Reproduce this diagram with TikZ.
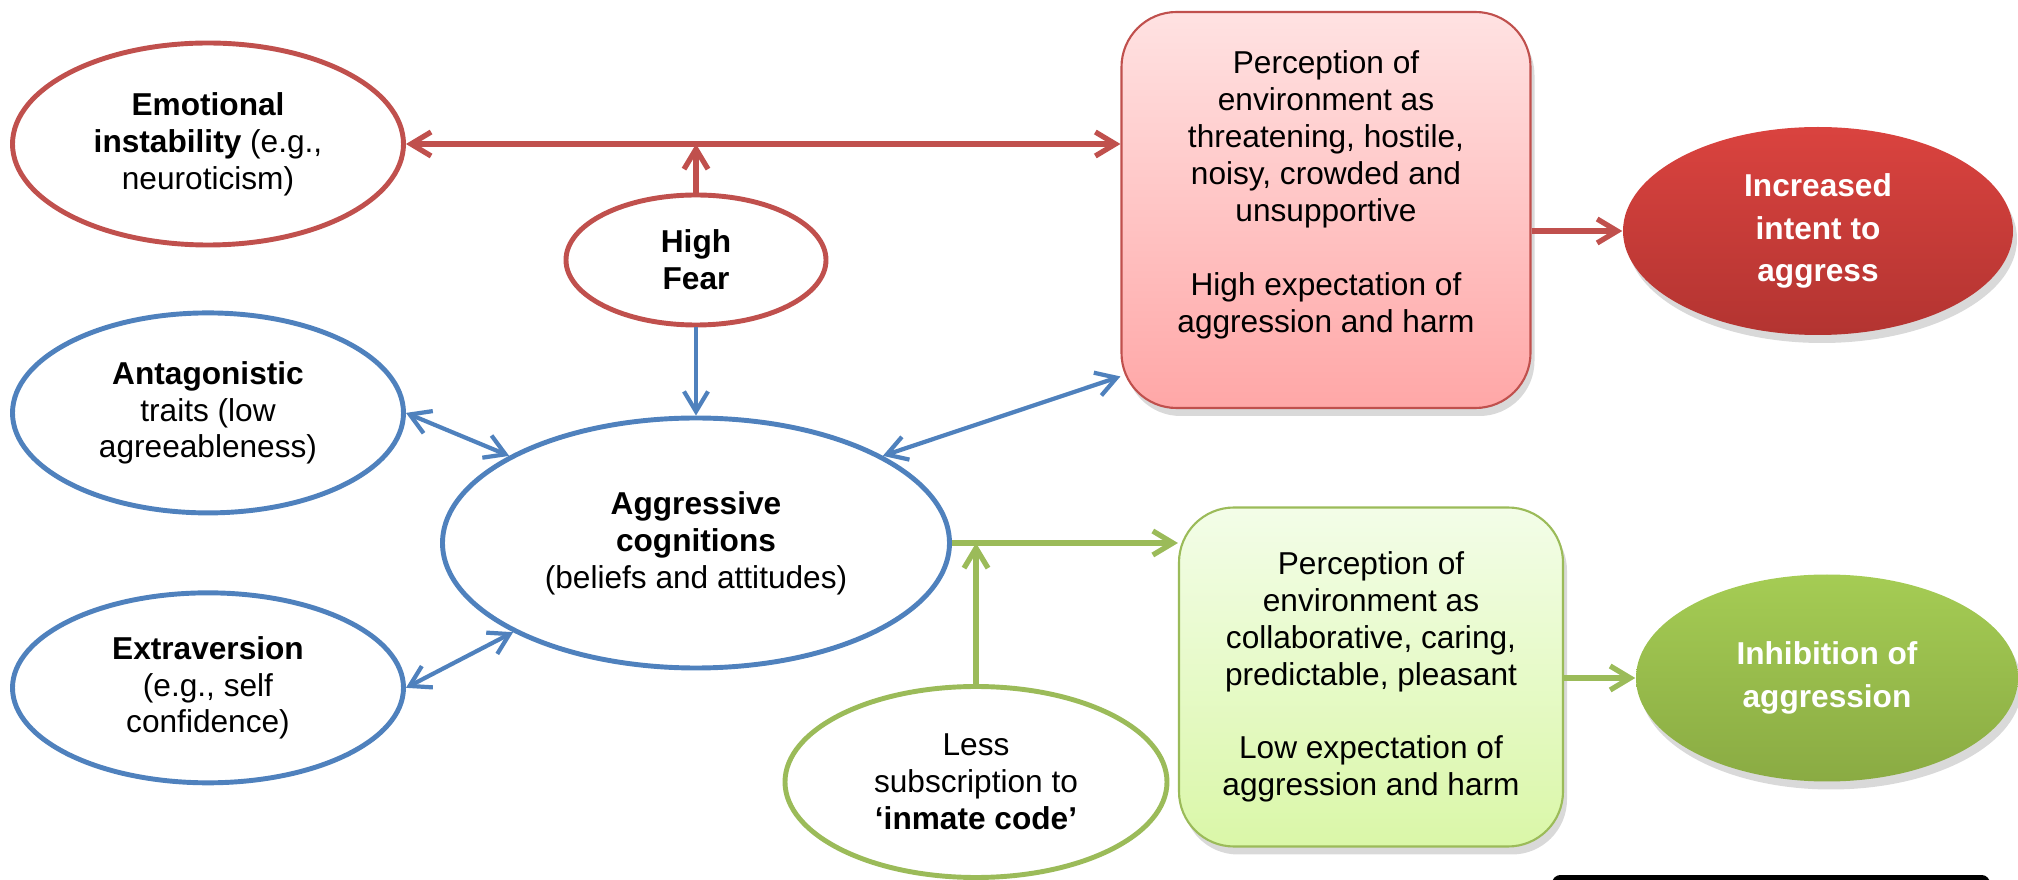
\documentclass[tikz,border=0pt]{standalone}
\usepackage{fontspec}
\setmainfont{Liberation Sans}
\usetikzlibrary{arrows.meta}
\usetikzlibrary{positioning}
\usetikzlibrary{shapes.geometric}
\usetikzlibrary{shadows}
\definecolor{fearred}{HTML}{C0504D}
\definecolor{traitblue}{HTML}{4F81BD}
\definecolor{calmgreen}{HTML}{9BBB59}
\definecolor{threattop}{HTML}{FFE2E2}
\definecolor{threatbottom}{HTML}{FFA7A7}
\definecolor{safetop}{HTML}{F3FDE8}
\definecolor{safebottom}{HTML}{DAF7A8}
\definecolor{intenttop}{HTML}{DA433F}
\definecolor{intentbottom}{HTML}{B33431}
\definecolor{inhibtop}{HTML}{A5CC54}
\definecolor{inhibbottom}{HTML}{8AAB43}
\tikzset {
  factor/.style = {
    ellipse,
    draw,
    fill = white,
    line width = 1.4pt,
    inner sep = 0,
    align = center
  },
  % risk factor
  red factor/.style = {
    factor,
    draw = fearred
  },
  % trait factor
  blue factor/.style = {
    factor,
    draw = traitblue
  },
  % protective factor
  green factor/.style = {
    factor,
    draw = calmgreen
  }
}
\tikzset {
  soft shadow/.style = {
    drop shadow = {shadow xshift = 0.4mm, shadow yshift = -0.8mm, opacity = 0.3}
  },
  % perception box
  percept/.style = {
    rectangle,
    rounded corners = 5.5mm,
    line width = 0.6pt,
    align = center,
    soft shadow
  },
  threat box/.style = {
    percept,
    draw = fearred,
    top color = threattop,
    bottom color = threatbottom
  },
  safe box/.style = {
    percept,
    draw = calmgreen,
    top color = safetop,
    bottom color = safebottom
  },
  % outcome
  outcome/.style = {
    ellipse,
    inner sep = 0,
    align = center,
    text = white,
    font = \fontsize{9}{12.2}\selectfont\bfseries,
    soft shadow
  },
  intent/.style = {
    outcome,
    top color = intenttop,
    bottom color = intentbottom
  },
  inhibit/.style = {
    outcome,
    top color = inhibtop,
    bottom color = inhibbottom
  },
  caption box/.style = {
    draw = black,
    line width = 1.4pt,
    rounded corners = 0.6mm,
    minimum width = 43.3mm,
    minimum height = 10mm
  }
}
\tikzset {
  >={Straight Barb[length=2mm, width=2.4mm]},
  link/.style = {
    line width = 1.5pt
  },
  red link/.style = {
    link,
    draw = fearred
  },
  blue link/.style = {
    link,
    line width = 1.2pt,
    draw = traitblue
  },
  green link/.style = {
    link,
    draw = calmgreen
  }
}

\begin{document}
\begin{tikzpicture}[x=0.1mm, y=-0.1mm, font=\fontsize{9}{10.5}\selectfont]
    \useasboundingbox (0,0) rectangle (2018,880);
    \clip (0,0) rectangle (2018,880);

    \node[red factor, minimum width=39.1mm, minimum height=20.2mm] (emo) at (208,144)
      {\textbf{Emotional}\\ \textbf{instability} (e.g.,\\ neuroticism)};
    \node[blue factor, minimum width=39.1mm, minimum height=20mm] (antag) [below=6.3mm of emo]
      {\textbf{Antagonistic}\\ traits (low\\ agreeableness)};
    \node[blue factor, minimum width=39.1mm, minimum height=19mm] (extra) [below=7.5mm of antag]
      {\textbf{Extraversion}\\ (e.g., self\\ confidence)};
    \node[red factor, minimum width=26mm, minimum height=13mm] (fear) at (696,260)
      {\textbf{High}\\ \textbf{Fear}};
    \node[blue factor, minimum width=50.7mm, minimum height=25mm] (cogn) at (696,543)
      {\textbf{Aggressive}\\ \textbf{cognitions}\\ (beliefs and attitudes)};
    \node[green factor, minimum width=38.2mm, minimum height=19.1mm] (less) at (976,782)
      {Less\\ subscription to\\ \textbf{`inmate code'}};

    \node[threat box, minimum width=40.9mm, minimum height=39.6mm] (threat) at (1326,210)
      {Perception of\\ environment as\\ threatening, hostile,\\ noisy, crowded and\\ unsupportive\\[10.5pt]
       High expectation of\\ aggression and harm\\ \mbox{}};
    \node[safe box, minimum width=38.4mm, minimum height=33.9mm] (safe) at (1371,677)
      {Perception of\\ environment as\\ collaborative, caring,\\ predictable, pleasant\\[10.5pt]
       Low expectation of\\ aggression and harm};
    \node[intent, minimum width=39mm, minimum height=20.8mm] (aggress) at (1818,231)
      {Increased\\ intent to\\ aggress};
    \node[inhibit, minimum width=38.2mm, minimum height=20.7mm] (inhib) at (1827,678)
      {Inhibition of\\ aggression};
    \node[caption box] (caption) [anchor=north] at (1771,875) {};

    \draw[red link, <->] (emo.east) -- (emo.east -| threat.west);
    \draw[red link, ->] (fear.north) -- (fear.north |- emo.east);
    \draw[red link, ->] (aggress.west -| threat.east) -- (aggress.west);

    \draw[blue link, ->] (fear.south) -- (cogn.north);
    \draw[blue link, <->] (antag.east) -- (cogn.155);
    \draw[blue link, <->] (extra.east) -- (cogn.206);
    \draw[blue link, <->] (cogn.25) -- (threat.219);

    \draw[green link, ->] (cogn.east) -- (cogn.east -| safe.west);
    \draw[green link, ->] (less.north) -- (less.north |- cogn.east);
    \draw[green link, ->] (inhib.west -| safe.east) -- (inhib.west);
  \end{tikzpicture}
\end{document}
